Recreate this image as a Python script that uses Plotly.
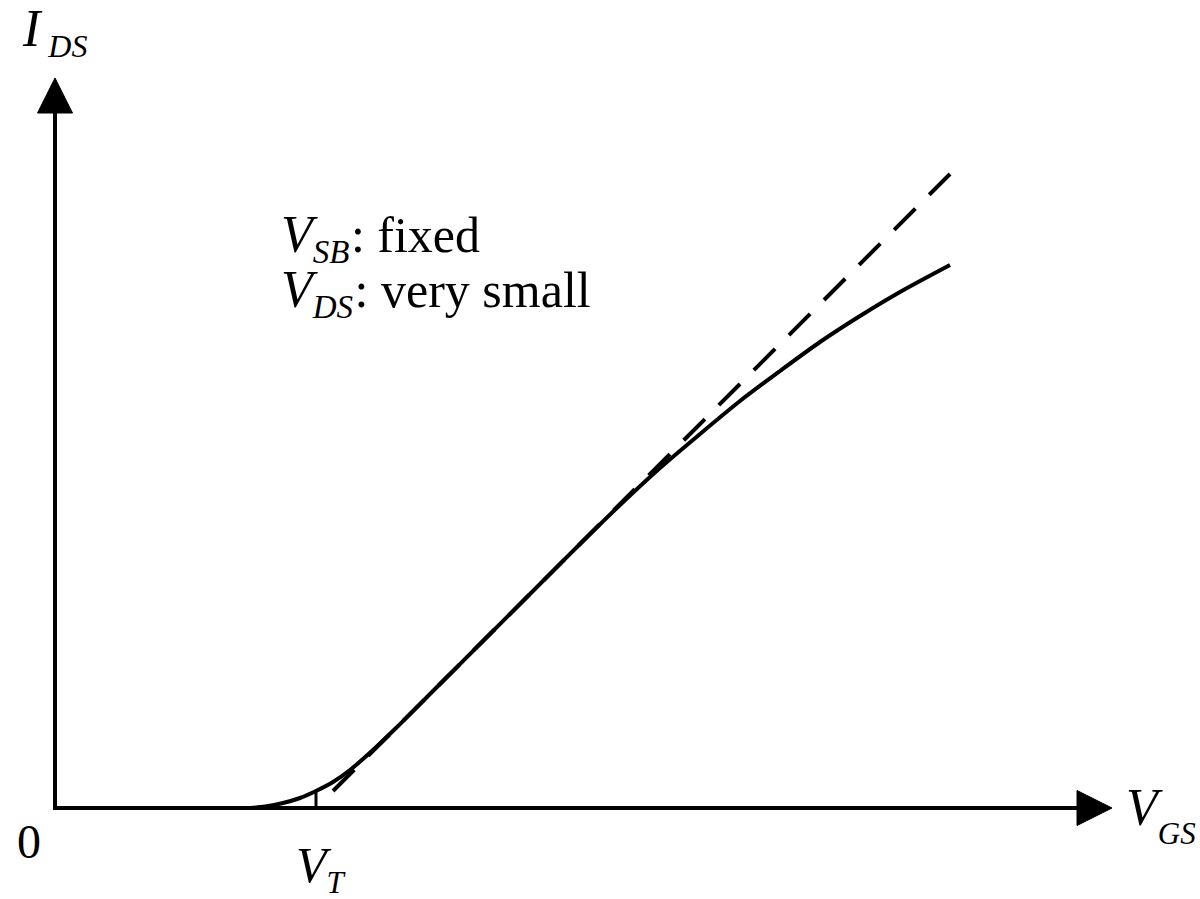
import plotly.graph_objects as go

# Transfer characteristic I_DS vs V_GS (arbitrary units)
vgs_curve = [1.95, 2.10, 2.28, 2.45, 2.61, 2.78, 2.95, 3.18, 3.41, 3.80, 4.30,
             4.80, 5.25, 5.65, 6.05, 6.45, 6.85, 7.25, 7.65, 8.05, 8.45, 8.95]
ids_curve = [0.00, 0.015, 0.05, 0.10, 0.17, 0.26, 0.38, 0.58, 0.80, 1.19, 1.69,
             2.19, 2.64, 3.03, 3.40, 3.74, 4.07, 4.37, 4.66, 4.92, 5.16, 5.43]

# Linear extrapolation of the strong-inversion region
vgs_tangent = [2.78, 8.95]
ids_tangent = [0.17, 6.34]

# Threshold voltage marker
vt = 2.61
ids_at_vt = 0.17

# Axis extents (in data units)
x_axis_end = 10.57
y_axis_end = 7.30

ink = "#000000"
serif = "Liberation Serif"

fig = go.Figure()

fig.add_trace(go.Scatter(
    x=vgs_tangent, y=ids_tangent, mode="lines",
    line=dict(color=ink, width=4, dash="30px,19.6px"),
    hoverinfo="skip", showlegend=False))

fig.add_trace(go.Scatter(
    x=vgs_curve, y=ids_curve, mode="lines",
    line=dict(color=ink, width=4, shape="spline", smoothing=0.8),
    hoverinfo="skip", showlegend=False))

fig.add_trace(go.Scatter(
    x=[vt, vt], y=[0, ids_at_vt], mode="lines",
    line=dict(color=ink, width=3),
    hoverinfo="skip", showlegend=False))

# Axes with arrowheads
head_len = 0.35
head_half = 0.175
fig.add_shape(type="line", x0=0, y0=0, x1=x_axis_end - head_len + 0.02, y1=0,
              line=dict(color=ink, width=4))
fig.add_shape(type="line", x0=0, y0=-0.02, x1=0, y1=y_axis_end - head_len + 0.02,
              line=dict(color=ink, width=4))
fig.add_shape(type="path",
              path=f"M {x_axis_end - head_len},{head_half} L {x_axis_end},0 "
                   f"L {x_axis_end - head_len},{-head_half} Z",
              fillcolor=ink, line=dict(color=ink, width=1))
fig.add_shape(type="path",
              path=f"M {-head_half},{y_axis_end - head_len} L 0,{y_axis_end} "
                   f"L {head_half},{y_axis_end - head_len} Z",
              fillcolor=ink, line=dict(color=ink, width=1))


def px(n):
    return f'<span style="font-size:{n}px">'


def label(text, x, y, size, xanchor="left"):
    fig.add_annotation(x=x, y=y, text=text, showarrow=False,
                       xanchor=xanchor, yanchor="middle",
                       font=dict(family=serif, size=size, color=ink))


# Axis titles
label(f"<i>I</i><sub>{px(32)}<i> DS</i></span></sub>", -0.35, 7.76, 52)
label(f"<i>V</i><sub><sub>{px(31)}<i>GS</i></span></sub></sub>", 10.69, -0.065, 52)

# Threshold and origin labels
label(f"<i>V</i><sub>{px(31)}<i>T</i></span></sub>", 2.39, -0.60, 50)
label("0", -0.26, -0.33, 48, xanchor="center")

# Bias conditions
label(f"<i>V</i><sub>{px(33)}<i>SB</i></span></sub>{px(6)} </span>{px(50)}: fixed</span>",
      2.24, 5.70, 52)
label(f"<i>V</i><sub>{px(33)}<i>DS</i></span></sub>{px(6)} </span>{px(50)}: very small</span>",
      2.24, 5.15, 52)

fig.update_layout(
    width=1200, height=899,
    margin=dict(l=0, r=0, t=0, b=0),
    paper_bgcolor="white", plot_bgcolor="white",
    xaxis=dict(visible=False, range=[-0.55, 11.45], fixedrange=True),
    yaxis=dict(visible=False, range=[-0.91, 8.08], fixedrange=True),
    showlegend=False,
)

fig.write_html("out.html")
